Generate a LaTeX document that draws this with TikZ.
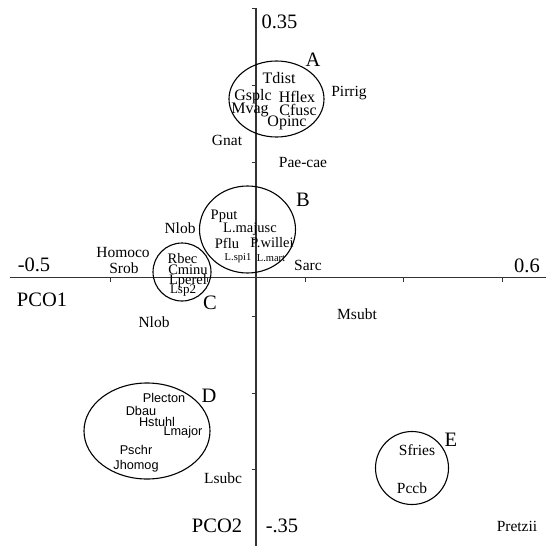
\documentclass[tikz,border=0pt]{standalone}
\usepackage{fontspec}
\setmainfont{Liberation Serif}
\newfontfamily\arialfont{Liberation Sans}
\usetikzlibrary{shapes.geometric}
\tikzset{
  lbl/.style={inner sep=0pt, font=\fontsize{15.5}{16}\selectfont},
  lblA/.style={inner sep=0pt, font=\fontsize{16}{16}\selectfont},
  lblB/.style={inner sep=0pt, font=\fontsize{14.5}{15}\selectfont},
  lblsmall/.style={inner sep=0pt, font=\fontsize{10.5}{11}\selectfont},
  lblD/.style={inner sep=0pt, font=\arialfont\fontsize{12.7}{13}\selectfont},
  big/.style={inner sep=0pt, font=\fontsize{20.5}{21}\selectfont},
  grp/.style={draw=black, line width=1.1pt, ellipse, inner sep=0pt},
  axis/.style={draw=black!80, line width=1.6pt},
  tick/.style={draw=black!80, line width=1pt}
}
\begin{document}
\begin{tikzpicture}[x=1pt,y=-1pt]
\useasboundingbox (0,0) rectangle (546,546);
% axes
\coordinate (xl) at (10,277.5);
\coordinate (xr) at (546,277.5);
\coordinate (yt) at (256,8);
\coordinate (yb) at (256,546);
\draw[axis] (xl) -- (xr);
\draw[axis] (yt) -- (yb);
\foreach \tx in {110,207,305,403,502} {\draw[tick] (\tx,277.5) -- ++(0,4);}
\foreach \ty in {8,85,162,239,316,393,469} {\draw[tick] (256,\ty) -- ++(-4,0);}
% axis labels
\node[big] (l035) at (279.5,22) {0.35};
\node[big] (lm05) at (34,265) {-0.5};
\node[big] (l06) at (527,266) {0.6};
\node[big] (pco1) at (42,300) {PCO1};
\node[big] (pco2) at (217,526) {PCO2};
\node[big] (lm035) at (282,526) {-.35};
% group ellipses
\node[grp, minimum width=95, minimum height=76] (gA) at (276.5,99) {};
\node[grp, minimum width=96, minimum height=87] (gB) at (247.5,229.5) {};
\node[grp, circle, minimum size=58] (gC) at (182,272) {};
\node[grp, minimum width=126, minimum height=96] (gD) at (147,431) {};
\node[grp, circle, minimum size=73] (gE) at (412,468) {};
\node[big] (tA) at (313,60) {A};
\node[big] (tB) at (303,200) {B};
\node[big] (tC) at (210,303) {C};
\node[big] (tD) at (209,396) {D};
\node[big] (tE) at (451,440) {E};
% group A
\node[lblA] (tdist) at (279,78) {Tdist};
\node[lblA] (gsplc) at (253,97) {Gsplc};
\node[lblA] (hflex) at (297,97) {Hflex};
\node[lblA] (mvag) at (250,110) {Mvag};
\node[lblA] (cfusc) at (298,110) {Cfusc};
\node[lblA] (opinc) at (287,123) {Opinc};
\node[lbl] (pirrig) at (349,93) {Pirrig};
\node[lbl] (gnat) at (227,140) {Gnat};
\node[lbl] (paecae) at (303,162) {Pae-cae};
% group B
\node[lblB] (pput) at (224,216) {Pput};
\node[lblB] (lmajusc) at (250,229) {L.majusc};
\node[lblB] (pflu) at (227,243) {Pflu};
\node[lblB] (pwillei) at (272,243) {P.willei};
\node[lblsmall] (lspi) at (238,258) {L.spi1};
\node[lblsmall] (lmart) at (271,258) {L.mart};
\node[lbl] (nlob1) at (180,228) {Nlob};
\node[lbl] (sarc) at (308,265) {Sarc};
\node[lbl] (homoco) at (123,252) {Homoco};
\node[lbl] (srob) at (124,268) {Srob};
% group C
\node[lblB] (rbec) at (182.5,259) {Rbec};
\node[lblB] (cminu) at (188,270) {Cminu};
\node[lblB] (lperel) at (188,281) {Lperel};
\node[lblB, font=\fontsize{13}{13}\selectfont] (lsp2) at (183,291) {Lsp2};
\node[lbl] (nlob2) at (154,322) {Nlob};
\node[lbl] (msubt) at (357,314) {Msubt};
% group D
\node[lblD] (plecton) at (164,398) {Plecton};
\node[lblD] (dbau) at (141,411) {Dbau};
\node[lblD] (hstuhl) at (157,422) {Hstuhl};
\node[lblD] (lmajor) at (183,432) {Lmajor};
\node[lblD] (pschr) at (136,450) {Pschr};
\node[lblD] (jhomog) at (136,466) {Jhomog};
\node[lbl] (lsubc) at (223,478) {Lsubc};
% group E
\node[lbl] (sfries) at (417,450) {Sfries};
\node[lbl] (pccb) at (412,488) {Pccb};
\node[lbl] (pretzii) at (517,526) {Pretzii};
\end{tikzpicture}
\end{document}
